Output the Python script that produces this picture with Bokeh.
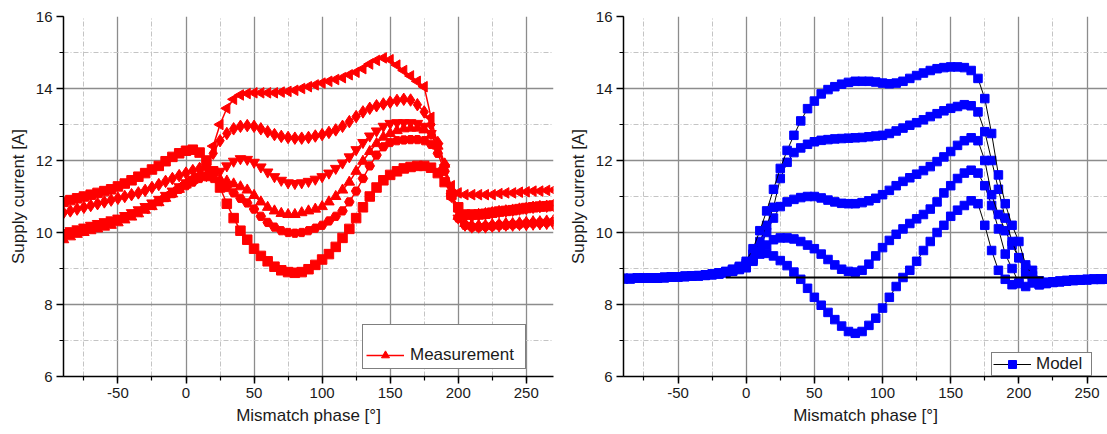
import math
from bokeh.plotting import figure
from bokeh.models import (Range1d, SingleIntervalTicker, Legend, LegendItem,
                          PrintfTickFormatter, ColumnDataSource)
from bokeh.layouts import row
from bokeh.embed import file_html
from bokeh.resources import INLINE

# ---------------- data ----------------
PHASE = [-90, -85, -80, -75, -70, -65, -60, -55, -50, -45,
         -40, -35, -30, -25, -20, -15, -10, -5, 0, 5,
         10, 15, 20, 25, 30, 35, 40, 45, 50, 55,
         60, 65, 70, 75, 80, 85, 90, 95, 100, 105,
         110, 115, 120, 125, 130, 135, 140, 145, 150, 155,
         160, 165, 170, 175, 180, 185, 190, 195, 200, 205,
         210, 215, 220, 225, 230, 235, 240, 245, 250, 255,
         260, 265, 270]

MEAS_1 = [9.9, 9.98, 10.05, 10.1, 10.15, 10.2, 10.25, 10.3, 10.35, 10.42,
          10.5, 10.58, 10.67, 10.77, 10.88, 11.0, 11.12, 11.25, 11.38, 11.5,
          11.6, 11.8, 12.4, 13.0, 13.45, 13.7, 13.82, 13.86, 13.88, 13.88,
          13.88, 13.88, 13.9, 13.92, 13.95, 14.0, 14.05, 14.1, 14.15, 14.2,
          14.25, 14.3, 14.38, 14.45, 14.55, 14.68, 14.78, 14.85, 14.8, 14.65,
          14.5, 14.35, 14.2, 14.05, 13.2, 12.4, 11.8, 11.3, 11.1, 11.05,
          11.05, 11.05, 11.05, 11.05, 11.08, 11.1, 11.1, 11.12, 11.13, 11.15,
          11.15, 11.17, 11.18]
MEAS_2 = [10.55, 10.6, 10.65, 10.7, 10.75, 10.8, 10.85, 10.9, 10.95, 11.0,
          11.05, 11.1, 11.17, 11.25, 11.33, 11.42, 11.5, 11.58, 11.65, 11.72,
          11.78, 11.85, 12.2, 12.55, 12.75, 12.88, 12.95, 12.97, 12.95, 12.88,
          12.8, 12.72, 12.67, 12.64, 12.62, 12.62, 12.64, 12.68, 12.72, 12.78,
          12.85, 12.95, 13.08, 13.22, 13.35, 13.45, 13.52, 13.57, 13.62, 13.67,
          13.7, 13.68, 13.55, 13.35, 13.0, 12.5, 11.9, 11.1, 10.6, 10.45,
          10.45, 10.5, 10.52, 10.55, 10.58, 10.6, 10.62, 10.65, 10.67, 10.7,
          10.72, 10.73, 10.75]
MEAS_3 = [10.0, 10.05, 10.1, 10.15, 10.2, 10.25, 10.3, 10.35, 10.4, 10.47,
          10.55, 10.63, 10.72, 10.82, 10.92, 11.03, 11.15, 11.27, 11.38, 11.48,
          11.55, 11.58, 11.6, 11.7, 11.85, 11.98, 12.05, 12.03, 11.95, 11.82,
          11.68, 11.55, 11.45, 11.38, 11.36, 11.38, 11.42, 11.48, 11.55, 11.65,
          11.78, 11.93, 12.1, 12.3, 12.5, 12.68, 12.82, 12.95, 13.03, 13.05,
          13.05, 13.05, 13.03, 12.95, 12.75, 12.4, 11.8, 11.0, 10.4, 10.2,
          10.15, 10.15, 10.15, 10.17, 10.18, 10.2, 10.2, 10.22, 10.22, 10.23,
          10.24, 10.25, 10.25]
MEAS_4 = [9.8, 9.88, 9.95, 10.0, 10.05, 10.1, 10.15, 10.2, 10.27, 10.35,
          10.43, 10.52, 10.62, 10.72, 10.83, 10.95, 11.07, 11.2, 11.32, 11.45,
          11.55, 11.6, 11.55, 11.48, 11.43, 11.35, 11.27, 11.18, 11.03, 10.85,
          10.7, 10.6, 10.53, 10.5, 10.5, 10.55, 10.6, 10.65, 10.72, 10.85,
          11.0, 11.18, 11.4, 11.7, 11.98, 12.25, 12.47, 12.65, 12.75, 12.83,
          12.88, 12.9, 12.9, 12.85, 12.7, 12.4, 11.9, 11.1, 10.45, 10.25,
          10.2, 10.2, 10.2, 10.22, 10.23, 10.25, 10.25, 10.27, 10.28, 10.3,
          10.3, 10.32, 10.33]
MEAS_5 = [9.95, 10.0, 10.05, 10.1, 10.15, 10.2, 10.25, 10.3, 10.35, 10.42,
          10.5, 10.58, 10.67, 10.76, 10.86, 10.97, 11.08, 11.2, 11.3, 11.4,
          11.5, 11.55, 11.5, 11.4, 11.25, 11.1, 10.95, 10.82, 10.65, 10.45,
          10.28, 10.15, 10.05, 10.0, 9.98, 10.0, 10.05, 10.12, 10.2, 10.32,
          10.45, 10.6, 10.85, 11.15, 11.5, 11.85, 12.15, 12.38, 12.5, 12.55,
          12.57, 12.58, 12.58, 12.55, 12.45, 12.2, 11.7, 11.0, 10.4, 10.2,
          10.15, 10.15, 10.17, 10.18, 10.2, 10.2, 10.22, 10.23, 10.25, 10.26,
          10.27, 10.28, 10.3]
MEAS_6 = [10.85, 10.9, 10.95, 11.0, 11.05, 11.1, 11.15, 11.2, 11.28, 11.36,
          11.45, 11.55, 11.65, 11.75, 11.85, 11.98, 12.1, 12.2, 12.27, 12.3,
          12.22, 12.0, 11.7, 11.25, 10.8, 10.4, 10.05, 9.8, 9.55, 9.35,
          9.2, 9.05, 8.95, 8.9, 8.88, 8.9, 8.98, 9.1, 9.25, 9.4,
          9.6, 9.85, 10.1, 10.4, 10.7, 11.0, 11.25, 11.45, 11.6, 11.7,
          11.78, 11.82, 11.85, 11.85, 11.8, 11.65, 11.4, 11.05, 10.7, 10.5,
          10.5, 10.5, 10.52, 10.55, 10.58, 10.6, 10.62, 10.65, 10.68, 10.7,
          10.72, 10.73, 10.75]

MODEL_1 = [8.72, 8.72, 8.73, 8.73, 8.74, 8.74, 8.75, 8.76, 8.77, 8.78,
           8.79, 8.8, 8.82, 8.85, 8.88, 8.92, 8.98, 9.06, 9.2, 9.55,
           10.05, 10.6, 11.2, 11.78, 12.28, 12.7, 13.1, 13.44, 13.65, 13.85,
           13.97, 14.05, 14.12, 14.17, 14.2, 14.2, 14.2, 14.18, 14.15, 14.13,
           14.15, 14.2, 14.28, 14.36, 14.43, 14.5, 14.55, 14.58, 14.6, 14.6,
           14.58, 14.5, 14.28, 13.72, 12.75, 11.6, 10.8, 10.2, 9.75, 9.1,
           8.8, 8.65, 8.62, 8.63, 8.65, 8.67, 8.68, 8.69, 8.7, 8.7,
           8.71, 8.71, 8.72]
MODEL_2 = [8.72, 8.72, 8.73, 8.73, 8.74, 8.74, 8.75, 8.76, 8.77, 8.78,
           8.79, 8.8, 8.82, 8.84, 8.87, 8.91, 8.97, 9.04, 9.15, 9.4,
           9.75, 10.2, 10.7, 11.5, 11.95, 12.22, 12.35, 12.45, 12.52, 12.56,
           12.58, 12.6, 12.61, 12.62, 12.63, 12.64, 12.66, 12.68, 12.7, 12.75,
           12.82, 12.9, 12.98, 13.05, 13.13, 13.22, 13.3, 13.38, 13.45, 13.5,
           13.55, 13.52, 13.35, 12.8, 12.0, 11.2, 10.4, 9.75, 9.3, 8.85,
           8.6, 8.58, 8.6, 8.62, 8.64, 8.66, 8.67, 8.68, 8.69, 8.7,
           8.7, 8.71, 8.72]
MODEL_3 = [8.72, 8.72, 8.73, 8.73, 8.74, 8.74, 8.75, 8.76, 8.77, 8.78,
           8.79, 8.8, 8.81, 8.83, 8.86, 8.9, 8.95, 9.02, 9.1, 9.3,
           9.6, 10.0, 10.4, 10.72, 10.85, 10.92, 10.97, 11.0, 11.0, 10.96,
           10.9, 10.85, 10.81, 10.8, 10.8, 10.83, 10.88, 10.95, 11.05, 11.17,
           11.3, 11.42, 11.52, 11.62, 11.72, 11.83, 11.97, 12.1, 12.25, 12.42,
           12.55, 12.63, 12.55, 12.0, 11.05, 10.5, 10.05, 9.65, 9.3, 9.0,
           8.7, 8.55, 8.58, 8.61, 8.63, 8.65, 8.67, 8.68, 8.69, 8.7,
           8.7, 8.71, 8.72]
MODEL_4 = [8.72, 8.72, 8.73, 8.73, 8.74, 8.74, 8.75, 8.76, 8.77, 8.78,
           8.79, 8.8, 8.81, 8.83, 8.85, 8.88, 8.93, 8.99, 9.05, 9.25,
           9.45, 9.65, 9.8, 9.85, 9.85, 9.82, 9.75, 9.65, 9.55, 9.4,
           9.25, 9.1, 8.98, 8.92, 8.9, 8.95, 9.12, 9.35, 9.58, 9.78,
           9.95, 10.1, 10.25, 10.38, 10.5, 10.65, 10.85, 11.1, 11.3, 11.5,
           11.65, 11.73, 11.65, 11.3, 10.75, 10.1, 9.4, 9.0, 8.6, 8.5,
           8.7, 8.55, 8.6, 8.62, 8.64, 8.66, 8.67, 8.68, 8.69, 8.7,
           8.7, 8.71, 8.72]
MODEL_5 = [8.72, 8.72, 8.73, 8.73, 8.74, 8.74, 8.75, 8.76, 8.77, 8.78,
           8.79, 8.8, 8.81, 8.83, 8.85, 8.88, 8.92, 8.97, 9.02, 9.2,
           9.4, 9.42, 9.35, 9.22, 9.08, 8.9, 8.7, 8.45, 8.2, 7.98,
           7.78, 7.58, 7.4, 7.25, 7.2, 7.25, 7.42, 7.62, 7.9, 8.2,
           8.5, 8.75, 8.95, 9.2, 9.5, 9.75, 10.0, 10.2, 10.45, 10.62,
           10.75, 10.88, 10.8, 10.2, 9.5, 8.95, 8.7, 8.55, 8.58, 8.9,
           8.95, 8.65, 8.6, 8.62, 8.64, 8.66, 8.67, 8.68, 8.69, 8.7,
           8.7, 8.71, 8.72]

REF_X = [-15, 218]
REF_Y = [8.75, 8.75]

X_TITLE = "Mismatch phase [°]"
Y_TITLE = "Supply current [A]"

FONT = "Liberation Sans"
TXT = "#1a1a1a"
RED = "#ff0000"
BLUE = "#0000ff"


def make_fig(x_end, frame_width, border_left, border_right):
    p = figure(frame_width=frame_width, frame_height=360,
               x_range=Range1d(-90, x_end), y_range=Range1d(6, 16),
               output_backend="svg", toolbar_location=None,
               min_border_left=border_left, min_border_right=border_right,
               min_border_top=16, min_border_bottom=58)
    p.outline_line_color = None
    p.background_fill_color = "white"
    p.border_fill_color = "white"
    p.xaxis.ticker = SingleIntervalTicker(interval=50, num_minor_ticks=2)
    p.yaxis.ticker = SingleIntervalTicker(interval=2, num_minor_ticks=2)
    p.xaxis.formatter = PrintfTickFormatter(format="%d")
    p.yaxis.formatter = PrintfTickFormatter(format="%d")
    p.xaxis.axis_label = X_TITLE
    p.yaxis.axis_label = Y_TITLE
    for ax in (p.xaxis, p.yaxis):
        ax.axis_line_color = "black"
        ax.axis_line_width = 1.5
        ax.major_tick_line_color = "black"
        ax.major_tick_line_width = 1.5
        ax.minor_tick_line_color = "black"
        ax.minor_tick_line_width = 1.2
        ax.major_tick_in = 0
        ax.major_tick_out = 7
        ax.minor_tick_in = 0
        ax.minor_tick_out = 4
        ax.major_label_text_font = FONT
        ax.major_label_text_font_size = "15px"
        ax.major_label_text_color = TXT
        ax.axis_label_text_font = FONT
        ax.axis_label_text_font_size = "17px"
        ax.axis_label_text_font_style = "normal"
        ax.axis_label_text_color = TXT
        ax.major_label_standoff = 4
        ax.axis_label_standoff = 5
    for g in (p.xgrid, p.ygrid):
        g.grid_line_color = "#8c8c8c"
        g.grid_line_width = 1.3
        g.minor_grid_line_color = "#c4c4c4"
        g.minor_grid_line_width = 1
        g.minor_grid_line_dash = "5 2 1 2"
    return p


# ---------------- left: measurement ----------------
p1 = make_fig(270, 490, 63, 7)
meas = [(MEAS_6, "square", 0.0, 9.5),
        (MEAS_5, "hex", 0.0, 9.5),
        (MEAS_4, "triangle", 0.0, 10.5),
        (MEAS_3, "inverted_triangle", 0.0, 10.5),
        (MEAS_2, "diamond", 0.0, 12.5),
        (MEAS_1, "triangle", math.pi / 2, 10.5)]
leg_r = None
for ys, mk, ang, sz in meas:
    src = ColumnDataSource(dict(x=PHASE, y=ys, ang=[ang] * len(PHASE)))
    lr = p1.line("x", "y", source=src, line_color=RED, line_width=1.5)
    sr = p1.scatter("x", "y", source=src, marker=mk, angle="ang", size=sz,
                    fill_color=RED, line_color=RED)
    leg_r = [lr, sr]

leg1 = Legend(items=[LegendItem(label="Measurement", renderers=leg_r, index=0)],
              location=(299, 7), title=" ", title_text_font_size="13px",
              title_standoff=2, padding=3, spacing=0, margin=0,
              glyph_width=38, glyph_height=20, label_height=20,
              label_width=112, label_standoff=6, label_text_font=FONT,
              label_text_font_size="17px", label_text_color=TXT,
              border_line_color="black", border_line_width=1.5,
              background_fill_color="white", background_fill_alpha=1)
p1.add_layout(leg1)

# ---------------- right: model ----------------
p2 = make_fig(265, 484, 63, 0)
models = [MODEL_5, MODEL_4, MODEL_3, MODEL_2, MODEL_1]
leg_m = None
for ys in models:
    lr = p2.line(PHASE, ys, line_color="black", line_width=1)
    sr = p2.scatter(PHASE, ys, marker="square", size=8.5,
                    fill_color=BLUE, line_color=BLUE)
    leg_m = [lr, sr]
p2.line(REF_X, REF_Y, line_color="black", line_width=2.2)

leg2 = Legend(items=[LegendItem(label="Model", renderers=leg_m)],
              location=(368, 0), padding=1, spacing=0, margin=0,
              glyph_width=38, glyph_height=20, label_height=20,
              label_width=54, label_standoff=5, label_text_font=FONT,
              label_text_font_size="17px", label_text_color=TXT,
              border_line_color="black", border_line_width=1.5,
              background_fill_color="white", background_fill_alpha=1)
p2.add_layout(leg2)

layout = row(p1, p2)
open("out.html", "w").write(file_html(layout, INLINE))
